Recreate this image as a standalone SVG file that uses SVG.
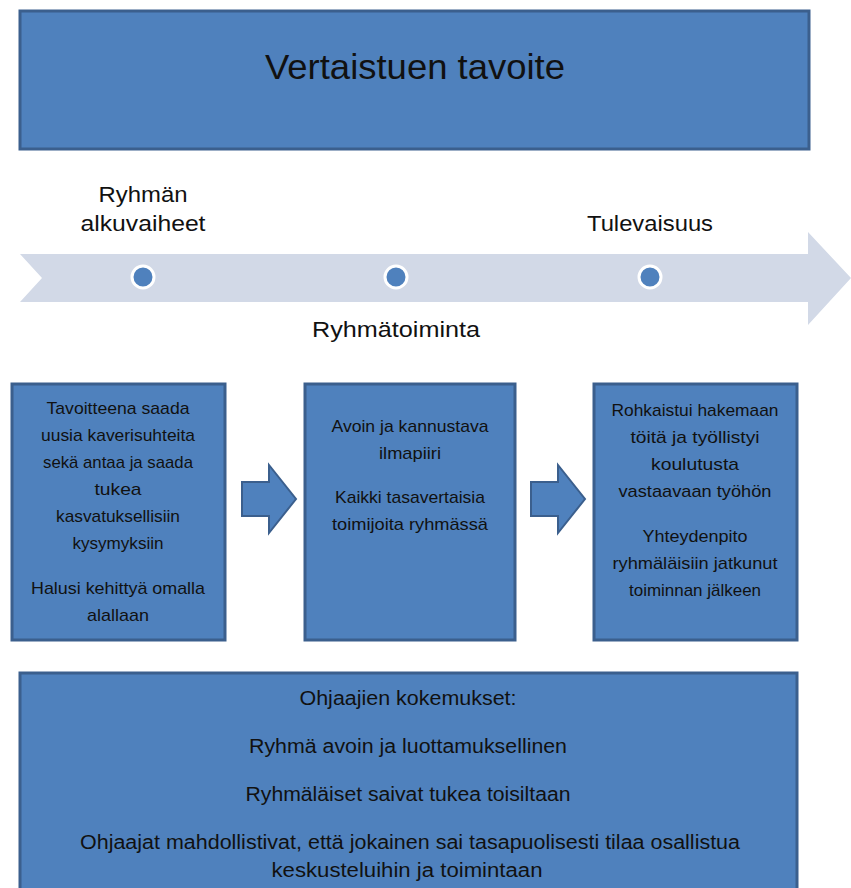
<svg xmlns="http://www.w3.org/2000/svg" width="851" height="888" viewBox="0 0 851 888">
<style>
.box{fill:#4f81bd;stroke:#3b5f8d;stroke-width:3}
.barrow{fill:#4f81bd;stroke:#3b5f8d;stroke-width:2;stroke-linejoin:miter}
.t{font-family:"Liberation Sans",Arial,sans-serif;fill:#111;text-anchor:middle}
.bt{font-size:17px}
.lt{font-size:22px}
.ft{font-size:20px}
.dot{fill:#4f81bd;stroke:#ffffff;stroke-width:3}
</style>
<rect width="851" height="888" fill="#ffffff"/>

<g id="title">
<rect class="box" x="20" y="11" width="789" height="138"/>
<text class="t" x="415" y="79" font-size="35" textLength="300" lengthAdjust="spacingAndGlyphs">Vertaistuen tavoite</text>
</g>

<g id="timeline">
<polygon points="20,254 808,254 808,232 851,278 808,325 808,302 20,302 42,278" fill="#d2d9e7"/>
<circle class="dot" cx="143" cy="277" r="11"/>
<circle class="dot" cx="396" cy="277" r="11"/>
<circle class="dot" cx="650" cy="277" r="11"/>
</g>

<g id="label-alku">
<text class="t lt" x="143" y="202" textLength="89" lengthAdjust="spacingAndGlyphs">Ryhmän</text>
<text class="t lt" x="143" y="231" textLength="125" lengthAdjust="spacingAndGlyphs">alkuvaiheet</text>
</g>
<g id="label-tulevaisuus">
<text class="t lt" x="650" y="231" textLength="126" lengthAdjust="spacingAndGlyphs">Tulevaisuus</text>
</g>
<g id="label-ryhmatoiminta">
<text class="t lt" x="396" y="337" textLength="168" lengthAdjust="spacingAndGlyphs">Ryhmätoiminta</text>
</g>

<g id="box1">
<rect class="box" x="12" y="384" width="213" height="256"/>
<text class="t bt" x="118" y="414" textLength="143" lengthAdjust="spacingAndGlyphs">Tavoitteena saada</text>
<text class="t bt" x="118" y="441" textLength="154" lengthAdjust="spacingAndGlyphs">uusia kaverisuhteita</text>
<text class="t bt" x="118" y="468" textLength="150" lengthAdjust="spacingAndGlyphs">sekä antaa ja saada</text>
<text class="t bt" x="118" y="495" textLength="47" lengthAdjust="spacingAndGlyphs">tukea</text>
<text class="t bt" x="118" y="522" textLength="124" lengthAdjust="spacingAndGlyphs">kasvatuksellisiin</text>
<text class="t bt" x="118" y="549" textLength="91" lengthAdjust="spacingAndGlyphs">kysymyksiin</text>
<text class="t bt" x="118" y="594" textLength="174" lengthAdjust="spacingAndGlyphs">Halusi kehittyä omalla</text>
<text class="t bt" x="118" y="621" textLength="62" lengthAdjust="spacingAndGlyphs">alallaan</text>
</g>

<g id="box2">
<rect class="box" x="305" y="384" width="210" height="256"/>
<text class="t bt" x="410" y="432" textLength="157" lengthAdjust="spacingAndGlyphs">Avoin ja kannustava</text>
<text class="t bt" x="410" y="459" textLength="62" lengthAdjust="spacingAndGlyphs">ilmapiiri</text>
<text class="t bt" x="410" y="503" textLength="150" lengthAdjust="spacingAndGlyphs">Kaikki tasavertaisia</text>
<text class="t bt" x="410" y="530" textLength="156" lengthAdjust="spacingAndGlyphs">toimijoita ryhmässä</text>
</g>

<g id="box3">
<rect class="box" x="594" y="384" width="203" height="256"/>
<text class="t bt" x="695" y="416" textLength="167" lengthAdjust="spacingAndGlyphs">Rohkaistui hakemaan</text>
<text class="t bt" x="695" y="443" textLength="129" lengthAdjust="spacingAndGlyphs">töitä ja työllistyi</text>
<text class="t bt" x="695" y="470" textLength="88" lengthAdjust="spacingAndGlyphs">koulutusta</text>
<text class="t bt" x="695" y="497" textLength="153" lengthAdjust="spacingAndGlyphs">vastaavaan työhön</text>
<text class="t bt" x="695" y="542" textLength="105" lengthAdjust="spacingAndGlyphs">Yhteydenpito</text>
<text class="t bt" x="695" y="569" textLength="165" lengthAdjust="spacingAndGlyphs">ryhmäläisiin jatkunut</text>
<text class="t bt" x="695" y="596" textLength="132" lengthAdjust="spacingAndGlyphs">toiminnan jälkeen</text>
</g>

<g id="connectors">
<polygon class="barrow" points="242,482 269,482 269,465 296,499 269,533 269,516 242,516"/>
<polygon class="barrow" points="531,482 558,482 558,465 585,499 558,533 558,516 531,516"/>
</g>

<g id="box4">
<rect class="box" x="20" y="673" width="777" height="230"/>
<text class="t ft" x="408" y="705" textLength="217" lengthAdjust="spacingAndGlyphs">Ohjaajien kokemukset:</text>
<text class="t ft" x="408" y="753" textLength="318" lengthAdjust="spacingAndGlyphs">Ryhmä avoin ja luottamuksellinen</text>
<text class="t ft" x="408" y="801" textLength="325" lengthAdjust="spacingAndGlyphs">Ryhmäläiset saivat tukea toisiltaan</text>
<text class="t ft" x="410" y="849" textLength="660" lengthAdjust="spacingAndGlyphs">Ohjaajat mahdollistivat, että jokainen sai tasapuolisesti tilaa osallistua</text>
<text class="t ft" x="407" y="877" textLength="271" lengthAdjust="spacingAndGlyphs">keskusteluihin ja toimintaan</text>
</g>
</svg>
